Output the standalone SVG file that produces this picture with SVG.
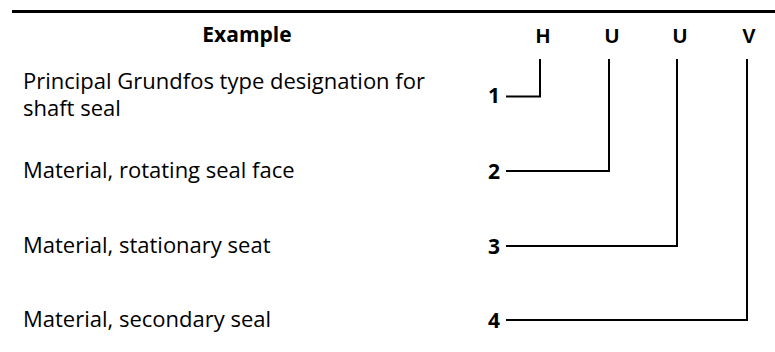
<svg xmlns="http://www.w3.org/2000/svg" width="775" height="352" viewBox="0 0 775 352">
<style>
.lbl{font-family:"Open Sans","Noto Sans",sans-serif;font-size:22px;fill:#000}
.hdr{font-family:"Open Sans","Noto Sans",sans-serif;font-size:21px;font-weight:bold;fill:#000}
.ltr{font-family:"Liberation Sans",Arial,sans-serif;font-size:20px;font-weight:bold;fill:#000;text-anchor:middle}
.num{font-family:"Open Sans","Noto Sans",sans-serif;font-size:21px;font-weight:bold;fill:#000;text-anchor:end}
.ln{fill:none;stroke:#000;stroke-width:2}
</style>
<rect width="775" height="352" fill="#fff"/>
<line x1="12" y1="11.5" x2="775" y2="11.5" stroke="#000" stroke-width="3"/>
<g id="header">
<text class="hdr" x="247" y="42" text-anchor="middle">Example</text>
<text class="ltr" x="543" y="43">H</text>
<text class="ltr" x="612" y="43">U</text>
<text class="ltr" x="680" y="43">U</text>
<text class="ltr" x="749" y="43">V</text>
</g>
<g id="row1">
<text class="lbl" x="23" y="89">Principal Grundfos type designation for</text>
<text class="lbl" x="23" y="116">shaft seal</text>
<text class="num" x="500" y="103">1</text>
</g>
<g id="row2">
<text class="lbl" x="23" y="178">Material, rotating seal face</text>
<text class="num" x="500" y="179">2</text>
</g>
<g id="row3">
<text class="lbl" x="23" y="253">Material, stationary seat</text>
<text class="num" x="500" y="254">3</text>
</g>
<g id="row4">
<text class="lbl" x="23" y="327">Material, secondary seal</text>
<text class="num" x="500" y="328">4</text>
</g>
<g id="connectors">
<polyline class="ln" points="506,96.5 540,96.5 540,59"/>
<polyline class="ln" points="506,171 609,171 609,59"/>
<polyline class="ln" points="506,246 677,246 677,59"/>
<polyline class="ln" points="506,320 747,320 747,59"/>
</g>
</svg>
